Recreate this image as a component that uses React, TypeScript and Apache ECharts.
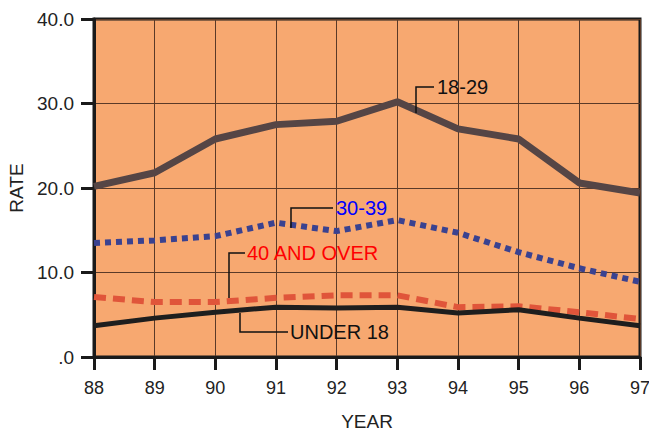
import React, { useEffect, useRef } from "react";
import * as echarts from "echarts";

const years = ["88", "89", "90", "91", "92", "93", "94", "95", "96", "97"];
const age18to29 = [20.2, 21.8, 25.8, 27.5, 27.9, 30.2, 27.0, 25.8, 20.6, 19.4];
const age30to39 = [13.5, 13.8, 14.3, 15.9, 14.9, 16.2, 14.7, 12.4, 10.5, 8.9];
const age40plus = [7.1, 6.5, 6.5, 7.0, 7.3, 7.3, 5.9, 6.0, 5.3, 4.5];
const under18 = [3.7, 4.6, 5.3, 5.9, 5.8, 5.9, 5.2, 5.6, 4.6, 3.7];

const FONT = "Liberation Sans, Arial, sans-serif";

export default function App() {
  const ref = useRef<HTMLDivElement>(null);
  useEffect(() => {
    document.body.style.margin = "0";
    document.body.style.overflow = "hidden";
    const chart = echarts.init(ref.current!, null, { renderer: "svg", width: 649, height: 432 });
    const leader = (points: number[][]) => ({
      type: "polyline",
      shape: { points },
      style: { stroke: "#111", lineWidth: 1.5, fill: null },
      z: 100,
    });
    const label = (text: string, x: number, y: number, color: string) => ({
      type: "text",
      x,
      y,
      style: { text, fill: color, font: `20px ${FONT}`, textVerticalAlign: "middle" },
      z: 100,
    });
    chart.setOption({
      animation: false,
      grid: {
        left: 94,
        right: 9,
        top: 19,
        bottom: 75,
        outerBoundsMode: "none",
        containLabel: false,
        show: true,
        backgroundColor: "#F7A870",
        borderColor: "#1a1a1a",
        borderWidth: 3,
      },
      xAxis: {
        type: "category",
        data: years,
        boundaryGap: false,
        name: "YEAR",
        nameLocation: "middle",
        nameGap: 55,
        nameTextStyle: { fontFamily: FONT, fontSize: 19, color: "#222" },
        axisLine: { lineStyle: { color: "#1a1a1a", width: 3 } },
        axisTick: { show: true, length: 13, lineStyle: { color: "#1a1a1a", width: 3 } },
        axisLabel: { fontFamily: FONT, fontSize: 18, color: "#222", margin: 22 },
        splitLine: { show: true, lineStyle: { color: "#5a3a28", width: 1 } },
      },
      yAxis: {
        type: "value",
        min: 0,
        max: 40,
        interval: 10,
        name: "RATE",
        nameLocation: "middle",
        nameGap: 66,
        nameRotate: 90,
        nameTextStyle: { fontFamily: FONT, fontSize: 19, color: "#222" },
        axisLine: { show: true, lineStyle: { color: "#1a1a1a", width: 3 } },
        axisTick: { show: true, length: 13, lineStyle: { color: "#1a1a1a", width: 3 } },
        axisLabel: {
          fontFamily: FONT,
          fontSize: 19,
          color: "#222",
          margin: 20,
          formatter: (v: number) => (v === 0 ? ".0" : v.toFixed(1)),
        },
        splitLine: { show: true, lineStyle: { color: "#5a3a28", width: 1 } },
      },
      series: [
        {
          name: "18-29",
          type: "line",
          data: age18to29,
          symbol: "none",
          lineStyle: { color: "#554545", width: 7 },
          z: 5,
        },
        {
          name: "30-39",
          type: "line",
          data: age30to39,
          symbol: "none",
          lineStyle: { color: "#3A4290", width: 6, type: [6, 5] },
          z: 5,
        },
        {
          name: "40 AND OVER",
          type: "line",
          data: age40plus,
          symbol: "none",
          lineStyle: { color: "#E0553A", width: 6, type: [12, 7] },
          z: 4,
        },
        {
          name: "UNDER 18",
          type: "line",
          data: under18,
          symbol: "none",
          lineStyle: { color: "#1e1e1e", width: 5 },
          z: 6,
        },
      ],
      graphic: [
        leader([[416, 113], [416, 87], [434, 87]]),
        label("18-29", 437, 87, "#111"),
        leader([[291, 228], [291, 208], [333, 208]]),
        label("30-39", 336, 208, "#0000ff"),
        leader([[229, 298], [229, 253], [245, 253]]),
        label("40 AND OVER", 247, 253, "#ff0000"),
        leader([[240, 313], [240, 332], [288, 332]]),
        label("UNDER 18", 290, 332, "#111"),
      ],
    });
    return () => chart.dispose();
  }, []);
  return (
    <div
      ref={ref}
      style={{ position: "absolute", left: 0, top: 0, width: 649, height: 432 }}
    />
  );
}
